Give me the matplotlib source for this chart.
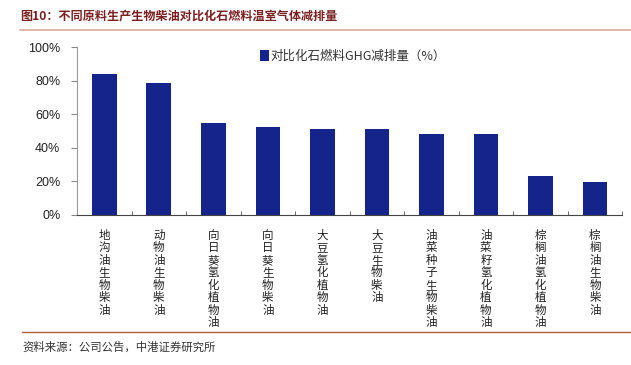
import matplotlib
matplotlib.use("Agg")
import matplotlib.pyplot as plt
from matplotlib.ticker import FixedLocator, PercentFormatter

plt.rcParams['font.family'] = ['Noto Sans CJK SC', 'DejaVu Sans']

categories = ['地沟油生物柴油', '动物油生物柴油', '向日葵氢化植物油', '向日葵生物柴油',
              '大豆氢化植物油', '大豆生物柴油', '油菜种子生物柴油', '油菜籽氢化植物油',
              '棕榈油氢化植物油', '棕榈油生物柴油']
reduction = [84, 78.5, 54.5, 52.5, 51.5, 51, 48, 48, 23, 19.5]
yticks = [0, 20, 40, 60, 80, 100]
series_name = '对比化石燃料GHG减排量（%）'

title = '图10：不同原料生产生物柴油对比化石燃料温室气体减排量'
source = '资料来源：公司公告，中港证券研究所'

bar_color = '#14248a'

fig = plt.figure(figsize=(6.31, 3.65), dpi=100)
ax = fig.add_axes([0.122, 0.411, 0.864, 0.46])

x = range(len(categories))
ax.bar(x, reduction, width=0.45, color=bar_color, label=series_name, zorder=2)

ax.set_xlim(-0.5, len(categories) - 0.5)
ax.set_ylim(0, 100)
ax.set_yticks(yticks)
ax.yaxis.set_major_formatter(PercentFormatter(decimals=0))
for lab in ax.get_yticklabels():
    lab.set_fontfamily('Liberation Sans')
    lab.set_fontsize(9)
    lab.set_color('#222222')

ax.set_xticks(list(x))
ax.set_xticklabels(['\n'.join(c) for c in categories], fontsize=8.3,
                   linespacing=0.95, va='top', color='#222222')
ax.xaxis.set_minor_locator(FixedLocator([i + 0.5 for i in range(-1, len(categories))]))
ax.tick_params(axis='x', which='major', length=0, pad=10)
ax.tick_params(axis='x', which='minor', direction='in', length=3, color='#555555')
ax.tick_params(axis='y', direction='out', length=4, color='#888888', pad=8)

for s in ['top', 'right']:
    ax.spines[s].set_visible(False)
ax.spines['left'].set_color('#999999')
ax.spines['bottom'].set_color('#444444')

leg = ax.legend(loc='upper left', bbox_to_anchor=(0.315, 1.05), frameon=False,
                fontsize=9, handlelength=0.7, handleheight=0.9, handletextpad=0.1)
for t in leg.get_texts():
    t.set_color('#333333')

fig.text(0.032, 0.955, title, fontsize=8.7, fontweight='bold', color='#7a2020',
         ha='left', va='center')
fig.add_artist(plt.Line2D([0.032, 1.0], [0.918, 0.918], color='#dcab9c', lw=1.2))
fig.add_artist(plt.Line2D([0.035, 1.0], [0.09, 0.09], color='#b0603a', lw=1.0))
fig.text(0.035, 0.05, source, fontsize=8.2, style='italic', color='#333333',
         ha='left', va='center')

fig.savefig('out.png', dpi=100)
